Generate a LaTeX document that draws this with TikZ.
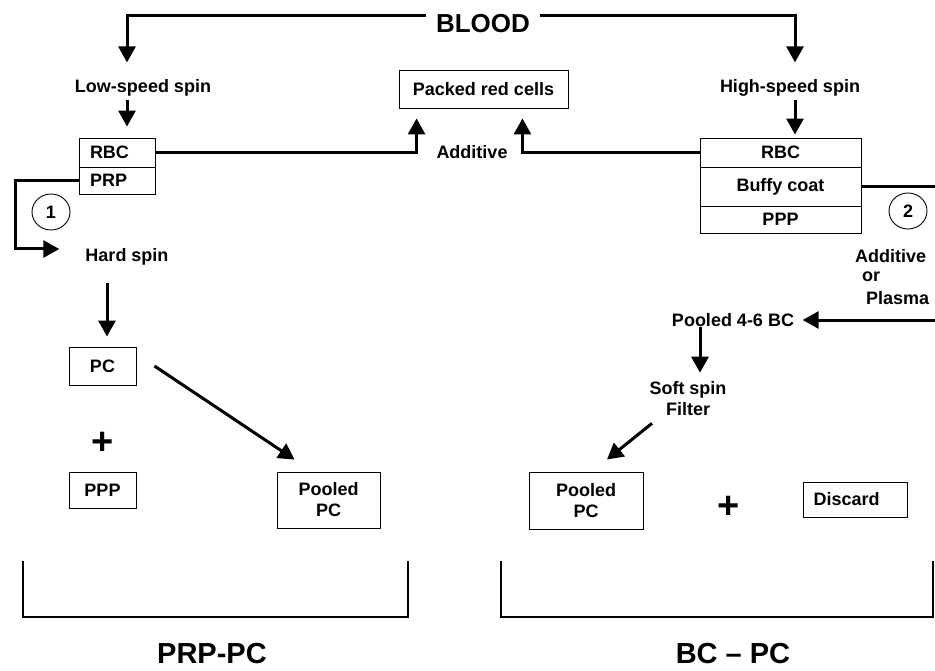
\documentclass[tikz,border=0pt]{standalone}
\usepackage{fontspec}
\setmainfont{Liberation Sans}
\usetikzlibrary{arrows.meta,shapes.geometric}

\begin{document}
\begin{tikzpicture}[x=1pt,y=-1pt,
  lab/.style={inner sep=0pt, font=\bfseries\fontsize{18}{21}\selectfont, align=center},
  cell/.style={draw, line width=0.9pt, inner sep=0pt, font=\bfseries\fontsize{18}{21}\selectfont, align=center},
  leftcell/.style={cell, align=left, inner xsep=11pt},
  conn/.style={line width=3pt},
  arr/.style={conn, -{Triangle[length=16pt,width=17pt]}},
  bracketline/.style={line width=2.6pt},
  tag/.style={draw, ellipse, line width=0.9pt, minimum width=38pt, minimum height=36pt, inner sep=0pt, font=\bfseries\fontsize{18}{21}\selectfont},
  plus/.style={inner sep=0pt, font=\bfseries\fontsize{38}{38}\selectfont},
  title/.style={inner sep=0pt, font=\bfseries\fontsize{29}{32}\selectfont},
  ]
\useasboundingbox (0,0) rectangle (935,671);
\clip (0,0) rectangle (935,671);

% source
\node[inner sep=0pt, font=\bfseries\fontsize{26}{28}\selectfont] (blood) at (483,24) {BLOOD};

% spin labels
\node[lab] (low)  at (143,88) {Low-speed spin};
\node[lab] (high) at (790,88) {High-speed spin};

% red cell product
\node[cell, minimum width=169pt, minimum height=38pt] (packed) at (483.5,89) {Packed red cells};
\node[lab] (additive) at (472,152) {Additive};

% left separation (PRP route)
\node[leftcell, text width=54pt, minimum height=29pt] (rbcL) at (117,152.5) {RBC};
\node[leftcell, text width=54pt, minimum height=27pt] (prpL) at (117,180.5) {PRP};
\node[tag] (one) at (51,212) {1};
\node[lab] (hard) at (127,257) {Hard spin};
\coordinate (bendL) at (15,249);

\node[cell, minimum width=67pt, minimum height=38pt] (pc) at (102.5,366) {PC};
\node[plus] (plusL) at (102.5,443) {+};
\node[cell, minimum width=67pt, minimum height=36pt] (pppL) at (102.5,490) {PPP};
\node[cell, minimum width=103pt, minimum height=56pt] (poolL) at (328.5,500) {Pooled\\PC};

% right separation (buffy coat route)
\node[cell, minimum width=161pt, minimum height=29pt] (rbcR) at (780.5,152.5) {RBC};
\node[cell, minimum width=161pt, minimum height=39pt] (buffy) at (780.5,186.5) {Buffy coat};
\node[cell, minimum width=161pt, minimum height=27pt] (pppR) at (780.5,219.5) {PPP};
\node[tag] (two) at (908,211) {2};
\node[lab, anchor=west] (addA) at (855,256) {Additive};
\node[lab, anchor=west] (addB) at (862,277) {or};
\node[lab, anchor=west] (addC) at (866,298) {Plasma};
\coordinate (outR) at (950,250);

\node[lab] (p46) at (733,320) {Pooled 4-6 BC};
\node[lab] (soft) at (688,399) {Soft spin\\Filter};
\node[cell, minimum width=114pt, minimum height=57pt] (poolR) at (586,500.5) {Pooled\\PC};
\node[plus] (plusR) at (729,507) {+};
\node[leftcell, text width=84pt, inner xsep=10pt, minimum height=35pt] (discard) at (855.5,499.5) {Discard};

% connectors
\draw[arr, shorten >=17pt] ([xshift=-10pt,yshift=-1pt]blood.north west) -| ([xshift=-16pt]low.north);
\draw[arr, shorten >=17pt] ([xshift=10pt,yshift=-1pt]blood.north east) -| ([xshift=5pt]high.north);
\draw[arr, shorten <=3pt, shorten >=11pt] ([xshift=-16pt]low.south) -- ([xshift=10pt]rbcL.north);
\draw[arr, shorten <=3pt, shorten >=3pt] ([xshift=5pt]high.south) -- ([xshift=14.5pt]rbcR.north);
\draw[arr, shorten >=10pt] (rbcL.east) -| ([xshift=18pt]packed.south west);
\draw[arr, shorten >=10pt] (rbcR.west) -| ([xshift=-46pt]packed.south east);
\draw[arr] (prpL.west) -| (bendL) -- ([xshift=-26pt,yshift=8pt]hard.west);
\draw[arr, shorten <=17pt, shorten >=10pt] ([xshift=-20pt]hard.south) -- ([xshift=4.5pt]pc.north);
\draw[arr] ([xshift=18pt]pc.east) -- ([xshift=18pt,yshift=12pt]poolL.north west);
\draw[arr, shorten >=8.5pt] (buffy.east) -| (outR) |- (p46.east);
\draw[arr, shorten >=9pt] ([xshift=-33pt]p46.south) -- ([xshift=12pt]soft.north);
\draw[arr] ([xshift=-36pt,yshift=-7pt]soft.south) -- ([xshift=21pt,yshift=12pt]poolR.north);

% group brackets
\draw[bracketline] (23,561) |- (408,617) -- (408,561);
\draw[bracketline] (501,561) |- (933,617) -- (933,561);
\node[title] (prppc) at (212,654) {PRP-PC};
\node[title] (bcpc) at (733,654) {BC -- PC};
\end{tikzpicture}
\end{document}
